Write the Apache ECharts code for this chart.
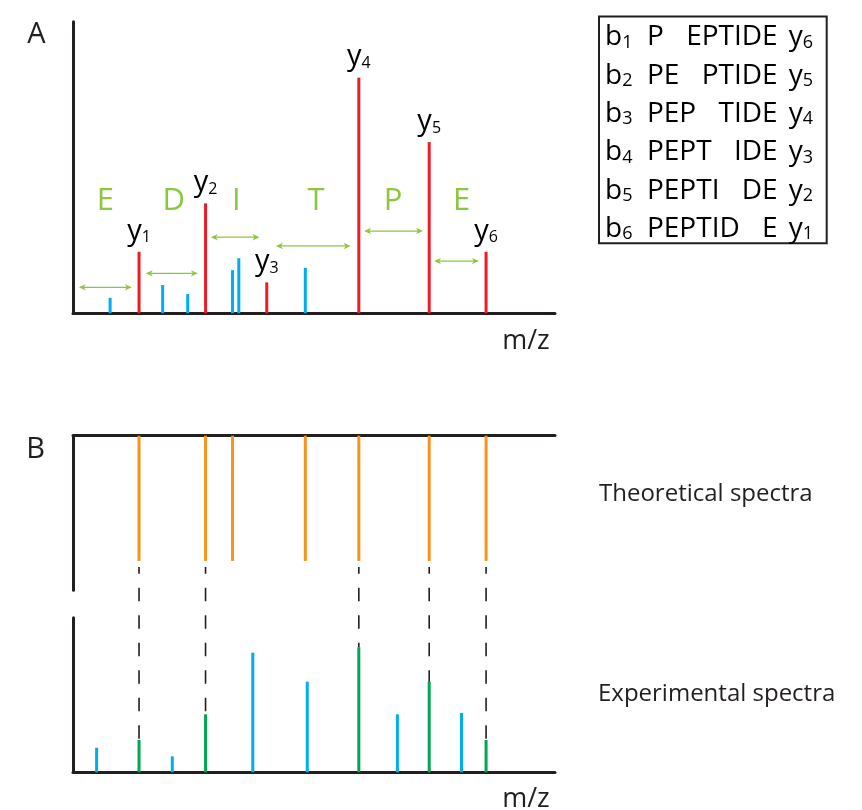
<!DOCTYPE html>
<html>
<head>
<meta charset="utf-8">
<script src="https://cdn.jsdelivr.net/npm/echarts@6/dist/echarts.min.js"></script>
<style>
html,body{margin:0;padding:0;background:#ffffff;}
#chart{width:862px;height:810px;}
</style>
</head>
<body>
<div id="chart"></div>
<script>
// ---------------- DATA ----------------
// m/z axis runs 0..1000, intensity axis 0..100 (arbitrary units)
const mzMin = 0, mzMax = 1000;
const intMax = 100;

// Panel A: unassigned (blue) peaks
const aOtherMz  = [77, 186, 238, 331, 344, 482];
const aOtherInt = [5.3, 9.7, 6.6, 14.8, 18.9, 15.6];
// Panel A: y-ion (red) peaks
const aYNum = [1, 2, 3, 4, 5, 6];
const aYMz  = [137, 275, 402, 593, 739, 857];
const aYInt = [21.1, 37.7, 10.6, 80.8, 58.7, 21.1];
// Panel A: residue letters and the mass-difference arrows
const residues      = ['E', 'D', 'I', 'T', 'P', 'E'];
const residueMz     = [67, 209, 339, 504, 664, 806];
const residueLevel  = 38.6;
const arrowFromMz   = [12, 151, 286, 421, 604, 749];
const arrowToMz     = [122, 259, 387, 576, 726, 842];
const arrowLevel    = [8.9, 13.7, 26.1, 23.1, 28.2, 17.9];

// Panel B: theoretical spectrum (orange)
const theoMz  = [137, 275, 331, 482, 593, 739, 857];
const theoInt = [81, 81, 81, 81, 81, 81, 81];
// Panel B: experimental spectrum, unmatched (blue) and matched (green)
const expOtherMz    = [49, 206, 373, 486, 673, 806];
const expOtherInt   = [15.9, 10.3, 77.4, 58.6, 37.5, 38.4];
const expMatchMz    = [137, 275, 593, 739, 857];
const expMatchInt   = [20.9, 37.5, 80.9, 58.6, 20.9];

// Fragment table
const bNum     = [1, 2, 3, 4, 5, 6];
const prefixes = ['P', 'PE', 'PEP', 'PEPT', 'PEPTI', 'PEPTID'];
const suffixes = ['EPTIDE', 'PTIDE', 'TIDE', 'IDE', 'DE', 'E'];
const yNum     = [6, 5, 4, 3, 2, 1];

// Texts
const panelLabels = ['A', 'B'];
const axisName = 'm/z';
const theoName = 'Theoretical spectra';
const expName  = 'Experimental spectra';

// ---------------- STYLE / LAYOUT ----------------
const FONT = '"Open Sans", "Noto Sans", sans-serif';
const INK = '#231f20';
const RED = '#ed1c24', BLUE = '#00aeef', ORANGE = '#f7941d', GREEN = '#00a651', LIME = '#8dc63f';
const L = 73, W = 482;
const A_TOP = 21.7, A_H = 291.6;
const B1_TOP = 435.7, B1_H = 154.6;
const B2_TOP = 617.7, B2_H = 154.6;
const B3_MAX = intMax * (B2_TOP + B2_H - B1_TOP) / B2_H;
const DASH_GAP = 3.9;

function stick(color, width) {
  return function (params, api) {
    const x = api.value(0), v = api.value(1);
    const p0 = api.coord([x, 0]);
    const p1 = api.coord([x, v]);
    return {
      type: 'rect',
      shape: {x: p0[0] - width / 2, y: Math.min(p0[1], p1[1]), width: width, height: Math.abs(p1[1] - p0[1])},
      style: {fill: color}
    };
  };
}
function pairs(xs, ys) { return xs.map((x, i) => [x, ys[i]]); }

const axisLineStyle = {color: INK, width: 3};
function valAxis(grid, min, max, extra) {
  return Object.assign({
    type: 'value', gridIndex: grid, min: min, max: max,
    axisLine: {show: true, onZero: false, lineStyle: axisLineStyle},
    axisTick: {show: false}, axisLabel: {show: false}, splitLine: {show: false}
  }, extra || {});
}

const labelRich = {
  m: {fontFamily: FONT, fontSize: 29, color: INK},
  s: {fontFamily: FONT, fontSize: 16, color: INK, verticalAlign: 'bottom'}
};
const tableRich = {
  m: {fontFamily: FONT, fontSize: 28, color: INK},
  s: {fontFamily: FONT, fontSize: 18, color: INK, verticalAlign: 'bottom'},
  g: {fontFamily: FONT, fontSize: 28, width: 11, color: INK}
};

// fragment table graphics
const tableGraphics = [{
  type: 'rect', shape: {x: 599, y: 16.5, width: 227.7, height: 226.8},
  style: {fill: 'none', stroke: INK, lineWidth: 2}
}];
bNum.forEach((n, i) => {
  const yc = 37.5 + i * 38.3;
  tableGraphics.push({
    type: 'text', x: 605, y: yc,
    style: {text: '{m|b}{s|' + n + '}{m|  ' + prefixes[i] + '}', rich: tableRich, align: 'left', verticalAlign: 'middle'}
  });
  tableGraphics.push({
    type: 'text', x: 813, y: yc,
    style: {text: '{m|' + suffixes[i] + '}{g| }{m|y}{s|' + yNum[i] + '}', rich: tableRich, align: 'right', verticalAlign: 'middle'}
  });
});

const textStyle = (size) => ({fontFamily: FONT, fontSize: size, fill: INK});

const option = {
  animation: false,
  backgroundColor: '#ffffff',
  grid: [
    {left: L, top: A_TOP, width: W, height: A_H},
    {left: L, top: B1_TOP, width: W, height: B1_H},
    {left: L, top: B2_TOP, width: W, height: B2_H},
    {left: L, top: B1_TOP, width: W, height: B2_TOP + B2_H - B1_TOP}
  ],
  xAxis: [
    valAxis(0, mzMin, mzMax),
    valAxis(1, mzMin, mzMax, {position: 'top'}),
    valAxis(2, mzMin, mzMax),
    valAxis(3, mzMin, mzMax, {show: false})
  ],
  yAxis: [
    valAxis(0, 0, intMax),
    valAxis(1, 0, intMax, {inverse: true}),
    valAxis(2, 0, intMax),
    valAxis(3, 0, B3_MAX, {show: false})
  ],
  graphic: [
    {type: 'text', x: 36.5, y: 35, style: Object.assign(textStyle(29), {text: panelLabels[0], align: 'center', verticalAlign: 'middle'})},
    {type: 'text', x: 35.5, y: 450, style: Object.assign(textStyle(29), {text: panelLabels[1], align: 'center', verticalAlign: 'middle'})},
    {type: 'text', x: 526, y: 341, style: Object.assign(textStyle(27), {text: axisName, align: 'center', verticalAlign: 'middle'})},
    {type: 'text', x: 526, y: 799, style: Object.assign(textStyle(27), {text: axisName, align: 'center', verticalAlign: 'middle'})},
    {type: 'text', x: 599, y: 494.5, style: Object.assign(textStyle(24), {text: theoName, align: 'left', verticalAlign: 'middle'})},
    {type: 'text', x: 598, y: 694.5, style: Object.assign(textStyle(24), {text: expName, align: 'left', verticalAlign: 'middle'})}
  ].concat(tableGraphics),
  series: [
    // Panel A
    {type: 'custom', xAxisIndex: 0, yAxisIndex: 0, encode: {x: 0, y: 1}, data: pairs(aOtherMz, aOtherInt), renderItem: stick(BLUE, 3)},
    {type: 'custom', xAxisIndex: 0, yAxisIndex: 0, encode: {x: 0, y: 1}, data: pairs(aYMz, aYInt), renderItem: stick(RED, 3)},
    {type: 'custom', xAxisIndex: 0, yAxisIndex: 0, encode: {x: 0, y: 1},
      data: aYMz.map((m, i) => [m, aYInt[i], aYNum[i]]),
      renderItem: function (params, api) {
        const p = api.coord([api.value(0), api.value(1)]);
        return {type: 'text', x: p[0], y: p[1] - 6,
          style: {text: '{m|y}{s|' + api.value(2) + '}', rich: labelRich, align: 'center', verticalAlign: 'bottom'}};
      }},
    {type: 'custom', xAxisIndex: 0, yAxisIndex: 0, encode: {x: [0, 1], y: 2},
      data: arrowFromMz.map((m, i) => [m, arrowToMz[i], arrowLevel[i]]),
      renderItem: function (params, api) {
        const a = api.coord([api.value(0), api.value(2)]);
        const b = api.coord([api.value(1), api.value(2)]);
        const hl = 7, hw = 3.2, nk = 5;
        return {type: 'group', children: [
          {type: 'line', shape: {x1: a[0] + 2, y1: a[1], x2: b[0] - 2, y2: b[1]}, style: {stroke: LIME, lineWidth: 1.3}},
          {type: 'polygon', shape: {points: [[a[0], a[1]], [a[0] + hl, a[1] - hw], [a[0] + nk, a[1]], [a[0] + hl, a[1] + hw]]}, style: {fill: LIME}},
          {type: 'polygon', shape: {points: [[b[0], b[1]], [b[0] - hl, b[1] - hw], [b[0] - nk, b[1]], [b[0] - hl, b[1] + hw]]}, style: {fill: LIME}}
        ]};
      }},
    {type: 'custom', xAxisIndex: 0, yAxisIndex: 0, encode: {x: 0, y: 1},
      data: residueMz.map((m, i) => [m, residueLevel, residues[i]]),
      renderItem: function (params, api) {
        const p = api.coord([api.value(0), api.value(1)]);
        return {type: 'text', x: p[0], y: p[1],
          style: {text: residues[params.dataIndex], fontFamily: FONT, fontSize: 31, fill: LIME, align: 'center', verticalAlign: 'middle'}};
      }},
    // Panel B theoretical
    {type: 'custom', xAxisIndex: 1, yAxisIndex: 1, encode: {x: 0, y: 1}, data: pairs(theoMz, theoInt), renderItem: stick(ORANGE, 3)},
    // Panel B experimental
    {type: 'custom', xAxisIndex: 2, yAxisIndex: 2, encode: {x: 0, y: 1}, data: pairs(expOtherMz, expOtherInt), renderItem: stick(BLUE, 3)},
    {type: 'custom', xAxisIndex: 2, yAxisIndex: 2, encode: {x: 0, y: 1}, data: pairs(expMatchMz, expMatchInt), renderItem: stick(GREEN, 3)},
    // Panel B dashed connectors (matched peaks)
    {type: 'custom', xAxisIndex: 3, yAxisIndex: 3, encode: {x: 0, y: 1},
      data: pairs(expMatchMz, expMatchInt),
      renderItem: function (params, api) {
        const x = api.value(0);
        const bottom = api.coord([x, api.value(1)]);
        const theo = theoInt[theoMz.indexOf(x)];
        const top = api.coord([x, B3_MAX - theo - DASH_GAP]);
        return {type: 'line', shape: {x1: bottom[0], y1: top[1], x2: bottom[0], y2: bottom[1]},
          style: {stroke: INK, lineWidth: 1.6, lineDash: [13.5, 14], lineDashOffset: 6.8}};
      }}
  ]
};

const chart = echarts.init(document.getElementById('chart'), null, {renderer: 'canvas'});
chart.setOption(option);
</script>
</body>
</html>
